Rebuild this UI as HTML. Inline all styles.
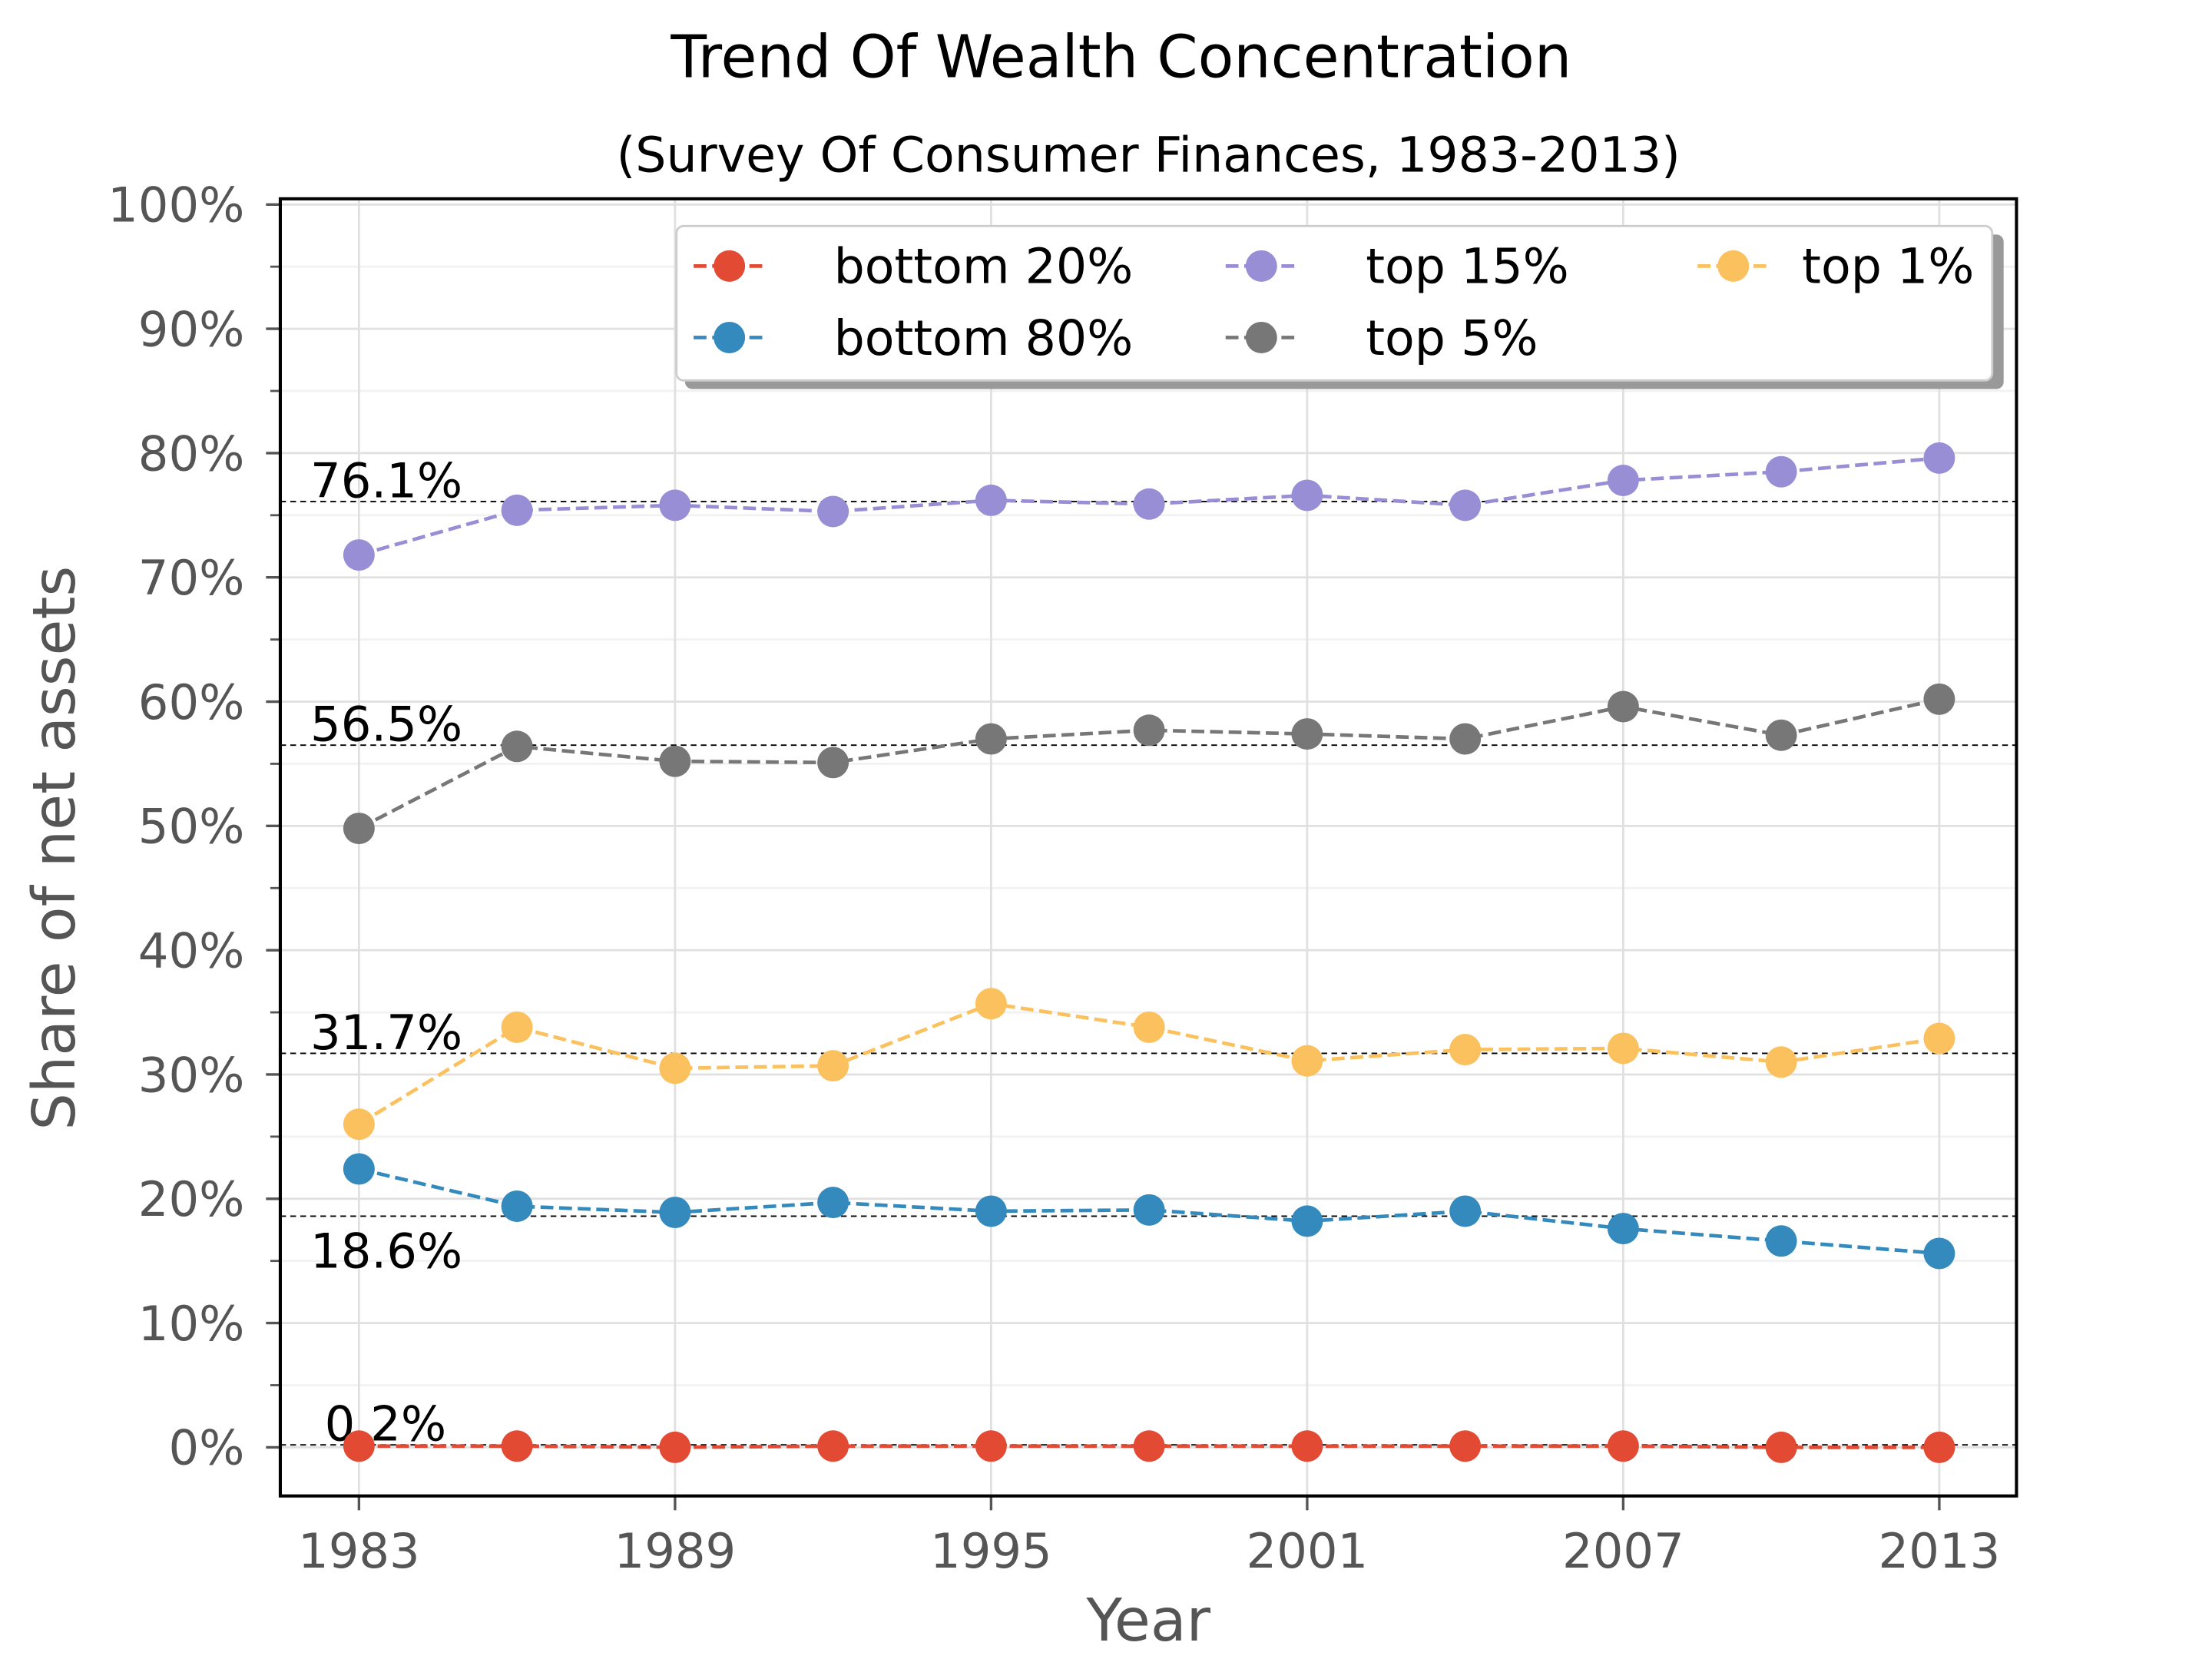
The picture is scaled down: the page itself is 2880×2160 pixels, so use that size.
<!DOCTYPE html>
<html><head><meta charset="utf-8"><style>
html,body{margin:0;padding:0;background:#fff;}
svg{display:block;}
text{font-family:"DejaVu Sans","Liberation Sans",sans-serif;}
</style></head><body>
<svg id="chart" xmlns="http://www.w3.org/2000/svg" width="2880" height="2160" viewBox="0 0 1546.7 1160">
<rect width="1546.7" height="1160" fill="#fff"/>
<text x="784" y="54" font-size="41" text-anchor="middle" fill="#000">Trend Of Wealth Concentration</text>
<text x="803" y="120" font-size="34" text-anchor="middle" fill="#000">(Survey Of Consumer Finances, 1983-2013)</text>
<g id="grid"></g>
<g id="axes"></g>
<g id="means"></g>
<g id="series"></g>
<rect x="196" y="139" width="1214" height="907" fill="none" stroke="#000" stroke-width="2.2"/>
<g id="legend"></g>
<text transform="translate(52,593) rotate(-90)" font-size="41" text-anchor="middle" fill="#555">Share of net assets</text>
<text x="803" y="1147" font-size="41" text-anchor="middle" fill="#555">Year</text>
</svg>
<script>
const years = [1983,1986,1989,1992,1995,1998,2001,2004,2007,2010,2013];
const bottom20 = [0.1,0.1,0.0,0.1,0.1,0.1,0.1,0.1,0.1,0.0,0.0];
const bottom80 = [22.4,19.4,18.9,19.7,19.0,19.1,18.2,19.0,17.6,16.6,15.6];
const top15 = [71.8,75.4,75.8,75.3,76.2,75.9,76.6,75.8,77.8,78.5,79.6];
const top5 = [49.8,56.4,55.2,55.1,57.0,57.7,57.4,57.0,59.6,57.3,60.2];
const top1 = [26.0,33.8,30.5,30.7,35.7,33.8,31.1,32.0,32.1,31.0,32.9];
const meanValues = [76.1,56.5,31.7,18.6,0.2];
const meanLabels = ["76.1%","56.5%","31.7%","18.6%","0.2%"];
const xTicks = [1983,1989,1995,2001,2007,2013];
const yTicks = [0,10,20,30,40,50,60,70,80,90,100];
const seriesNames = ["bottom 20%","bottom 80%","top 15%","top 5%","top 1%"];

const NS="http://www.w3.org/2000/svg";
function X(yr){return 251+(yr-1983)*(1356-251)/30;}
function Y(v){return 1012-v*(1012-143)/100;}
function mk(tag,attrs,parent){const e=document.createElementNS(NS,tag);for(const k in attrs)e.setAttribute(k,attrs[k]);parent.appendChild(e);return e;}
const grid=document.getElementById('grid'),axes=document.getElementById('axes');
for(let v=5;v<100;v+=10){
  const l=mk('line',{x1:196,x2:1410,y1:Y(v),y2:Y(v),stroke:'#f2f2f2','stroke-width':1.5},grid);
  
  
  const t=mk('line',{x1:189,x2:196,y1:Y(v),y2:Y(v),stroke:'#555','stroke-width':1.5},axes);
  
  
}
yTicks.forEach(v=>{
  const l=mk('line',{x1:196,x2:1410,y1:Y(v),y2:Y(v),stroke:'#e0e0e0','stroke-width':1.5},grid);
  
  
  const t=mk('line',{x1:186,x2:196,y1:Y(v),y2:Y(v),stroke:'#555','stroke-width':1.8},axes);
  
  
  const tx=mk('text',{x:171,y:Y(v)+12,'font-size':33.5,'text-anchor':'end',fill:'#555'},axes);
  tx.textContent=v+'%';
  
  
});
xTicks.forEach(yr=>{
  const l=mk('line',{x1:X(yr),x2:X(yr),y1:139,y2:1046,stroke:'#e0e0e0','stroke-width':1.5},grid);
  
  
  const t=mk('line',{x1:X(yr),x2:X(yr),y1:1046,y2:1056,stroke:'#555','stroke-width':1.8},axes);
  
  
  const tx=mk('text',{x:X(yr),y:1096,'font-size':33.5,'text-anchor':'middle',fill:'#555'},axes);
  tx.textContent=yr;
  
  
});
const means=document.getElementById('means');
meanValues.forEach((v,i)=>{
  const y=Y(v);
  const l=mk('line',{x1:196,x2:1410,y1:y,y2:y,stroke:'#000','stroke-width':1,'stroke-dasharray':'4,3'},means);
  
  
  const below=(i===3);
  const tx=mk('text',{x:i===4?227:217,y:below?y+36:y-3,'font-size':33.5,fill:'#000'},means);
  tx.textContent=meanLabels[i];
  
  
});
const data=[bottom20,bottom80,top15,top5,top1];
const colors=['#E24A33','#348ABD','#988ED5','#777777','#FBC15E'];
const sg=document.getElementById('series');
[4,3,2,1,0].forEach(si=>{
  const g=mk('g',{},sg);
  
  
  const pts=years.map((yr,i)=>X(yr)+','+Y(data[si][i])).join(' ');
  const pl=mk('polyline',{points:pts,fill:'none',stroke:colors[si],'stroke-width':2.5,'stroke-dasharray':'9,4'},g);
  
  
  years.forEach((yr,i)=>{
    const c=mk('circle',{cx:X(yr),cy:Y(data[si][i]),r:11,fill:colors[si]},g);
    
    
  });
});
const lg=document.getElementById('legend');
mk('rect',{x:479,y:164,width:922,height:108,rx:5,fill:'#999'},lg);
mk('rect',{x:473,y:158,width:920,height:108,rx:5,fill:'#fff',stroke:'#ccc','stroke-width':1.5},lg);
const pos=[[485,186],[485,236],[857,186],[857,236],[1187,186]];
const textX=[583,583,955,955,1260];
seriesNames.forEach((n,i)=>{
  const [lx,ly]=pos[i];
  const g=mk('g',{},lg);
  
  
  mk('line',{x1:lx,x2:lx+50,y1:ly,y2:ly,stroke:colors[i],'stroke-width':2.5,'stroke-dasharray':'9,4'},g);
  mk('circle',{cx:lx+25,cy:ly,r:11,fill:colors[i]},g);
  const t=mk('text',{x:textX[i],y:ly+12,'font-size':34,fill:'#000'},g);
  t.textContent=n;
});
</script>
</body></html>
